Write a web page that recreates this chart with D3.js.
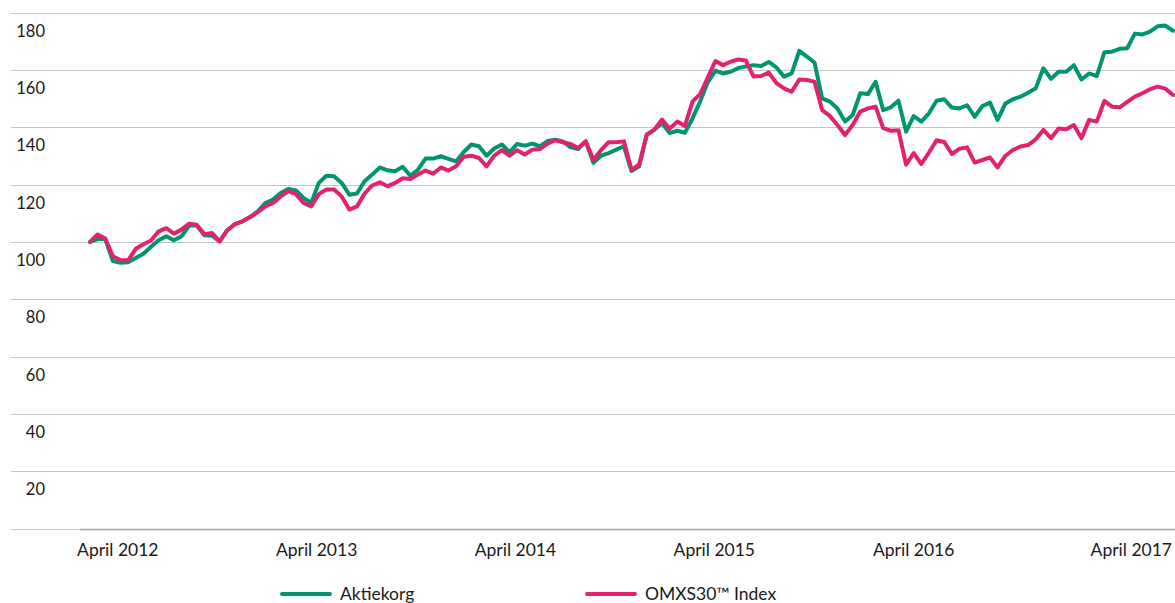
<!DOCTYPE html>
<html>
<head>
<meta charset="utf-8">
<script src="https://cdn.jsdelivr.net/npm/d3@7"></script>
<style>
  html, body { margin: 0; padding: 0; background: #fff; }
  svg text { font-family: Lato, "Noto Sans", sans-serif; fill: #1a1a1a; }
</style>
</head>
<body>
<svg id="chart" width="1175" height="603"></svg>
<script>
// series, one point every second week from feb 2012
var startDate = new Date(2012, 1, 10);
var stepDays = 14;

var aktiekorg = [
  100, 101.0, 101.0, 93.3, 92.7, 92.9, 94.4, 95.9, 98.3, 100.6,
  102.0, 100.6, 102.0, 105.7, 105.7, 102.3, 102.2, 100.2, 104.1, 106.2,
  107.2, 108.7, 110.7, 113.6, 114.8, 117.1, 118.5, 118.0, 115.4, 113.6,
  120.6, 123.1, 122.9, 120.6, 116.5, 116.9, 121.2, 123.5, 126.0, 125.0,
  124.7, 126.2, 123.1, 125.2, 129.1, 129.1, 129.9, 129.0, 128.1, 131.4,
  134.0, 133.4, 130.1, 132.6, 134.0, 131.3, 134.2, 133.6, 134.3, 133.4,
  135.2, 135.7, 135.1, 133.1, 132.4, 135.1, 127.6, 130.1, 131.0, 132.2,
  133.4, 124.7, 126.4, 137.4, 139.2, 141.5, 138.0, 138.8, 138.1, 143.1,
  149.0, 155.7, 159.8, 158.8, 159.4, 160.7, 161.2, 161.7, 161.4, 162.8,
  160.9, 157.7, 158.8, 166.7, 164.7, 162.6, 150.1, 149.0, 146.6, 142.0,
  144.3, 151.9, 151.6, 155.9, 146.0, 147.0, 149.3, 138.5, 143.9, 142.0,
  144.9, 149.3, 149.8, 146.9, 146.6, 147.7, 143.7, 147.4, 148.6, 142.6,
  148.2, 149.8, 150.7, 152.1, 153.6, 160.6, 156.9, 159.4, 159.4, 161.7,
  156.7, 158.8, 157.9, 166.2, 166.4, 167.4, 167.6, 172.7, 172.4, 173.4,
  175.3, 175.5, 173.7
];

var omxs30 = [
  100, 102.6, 101.2, 95.0, 93.6, 93.6, 97.6, 99.2, 100.5, 103.7,
  104.8, 102.9, 104.3, 106.4, 106.0, 102.7, 103.1, 100.2, 104.1, 106.2,
  107.2, 108.7, 110.4, 112.4, 113.6, 115.9, 117.7, 116.7, 113.6, 112.4,
  116.7, 118.3, 118.3, 115.9, 111.3, 112.4, 116.9, 119.7, 120.8, 119.4,
  120.6, 122.2, 122.0, 123.5, 124.9, 123.8, 126.0, 124.9, 126.4, 129.7,
  130.1, 129.3, 126.4, 130.1, 132.0, 130.1, 132.0, 130.5, 132.2, 132.4,
  134.3, 135.5, 134.8, 134.2, 132.8, 135.1, 128.7, 132.0, 134.8, 134.8,
  135.1, 125.2, 127.0, 137.4, 139.2, 142.7, 139.5, 142.0, 140.5, 149.0,
  151.6, 157.4, 163.1, 161.7, 162.9, 163.7, 163.3, 157.7, 157.9, 159.1,
  155.4, 153.6, 152.4, 156.7, 156.5, 155.9, 146.0, 144.0, 140.8, 137.3,
  140.8, 145.5, 146.6, 147.2, 139.7, 138.8, 139.0, 127.0, 131.0, 127.2,
  131.2, 135.5, 134.9, 130.7, 132.5, 133.0, 127.7, 128.6, 129.5, 126.0,
  130.0, 132.1, 133.3, 133.8, 135.8, 139.1, 136.2, 139.6, 139.3, 140.8,
  136.2, 142.6, 142.0, 149.2, 147.2, 147.0, 148.9, 150.7, 151.9, 153.3,
  154.2, 153.5, 151.3
];

var yTicks = [0, 20, 40, 60, 80, 100, 120, 140, 160, 180];
var yLabels = [20, 40, 60, 80, 100, 120, 140, 160, 180];
var xTickDates = [new Date(2012, 3, 1), new Date(2013, 3, 1), new Date(2014, 3, 1),
                  new Date(2015, 3, 1), new Date(2016, 3, 1), new Date(2017, 3, 1)];
var seriesNames = ['Aktiekorg', 'OMXS30™ Index'];
var seriesColors = ['#00956f', '#e2226f'];

var W = 1175, H = 603;
var gridLeft = 11, gridRight = 1175;

var dates = aktiekorg.map(function(d, i) { return d3.timeDay.offset(startDate, i * stepDays); });

var x = d3.scaleTime()
  .domain([dates[0], dates[dates.length - 1]])
  .range([90, 1173]);
var y = d3.scaleLinear().domain([0, 180]).range([528.5, 12.7]);

var svg = d3.select('#chart');

// gridlines
svg.append('g').selectAll('line')
  .data(yTicks)
  .enter().append('line')
  .attr('x1', gridLeft).attr('x2', gridRight)
  .attr('y1', function(d) { return Math.round(y(d)) + 0.5; })
  .attr('y2', function(d) { return Math.round(y(d)) + 0.5; })
  .attr('stroke', '#c4c4c4')
  .attr('stroke-width', 1.2);

// darker baseline under the data area
svg.append('line')
  .attr('x1', 80).attr('x2', gridRight)
  .attr('y1', Math.round(y(0)) + 0.5).attr('y2', Math.round(y(0)) + 0.5)
  .attr('stroke', '#a8a8a8').attr('stroke-width', 1.5);

// y labels hang below their gridline
svg.append('g').selectAll('text')
  .data(yLabels)
  .enter().append('text')
  .attr('x', 45)
  .attr('y', function(d) { return y(d) + 24; })
  .attr('text-anchor', 'end')
  .attr('font-size', 16.5)
  .text(function(d) { return d; });

// x labels, last one pushed in against the right edge
var fmt = d3.timeFormat('%Y');
svg.append('g').selectAll('text')
  .data(xTickDates)
  .enter().append('text')
  .attr('y', 556)
  .attr('font-size', 17.5)
  .attr('x', function(d, i) { return i === xTickDates.length - 1 ? W - 3 : x(d); })
  .attr('text-anchor', function(d, i) { return i === xTickDates.length - 1 ? 'end' : 'middle'; })
  .text(function(d) { return 'April ' + fmt(d); });

// lines
var series = [aktiekorg, omxs30];
var line = d3.line()
  .x(function(d, i) { return x(dates[i]); })
  .y(function(d) { return y(d); });

svg.append('g').selectAll('path')
  .data(series)
  .enter().append('path')
  .attr('d', line)
  .attr('fill', 'none')
  .attr('stroke', function(d, i) { return seriesColors[i]; })
  .attr('stroke-width', 4)
  .attr('stroke-linejoin', 'round')
  .attr('stroke-linecap', 'round');

// legend
var legendX = [282, 587];
var legend = svg.append('g').selectAll('g')
  .data(seriesNames)
  .enter().append('g')
  .attr('transform', function(d, i) { return 'translate(' + legendX[i] + ',594)'; });
legend.append('line')
  .attr('x1', 0).attr('x2', 48)
  .attr('stroke', function(d, i) { return seriesColors[i]; })
  .attr('stroke-width', 4)
  .attr('stroke-linecap', 'round');
legend.append('text')
  .attr('x', 58)
  .attr('y', 6)
  .attr('font-size', 17.5)
  .text(function(d) { return d; });
</script>
</body>
</html>
